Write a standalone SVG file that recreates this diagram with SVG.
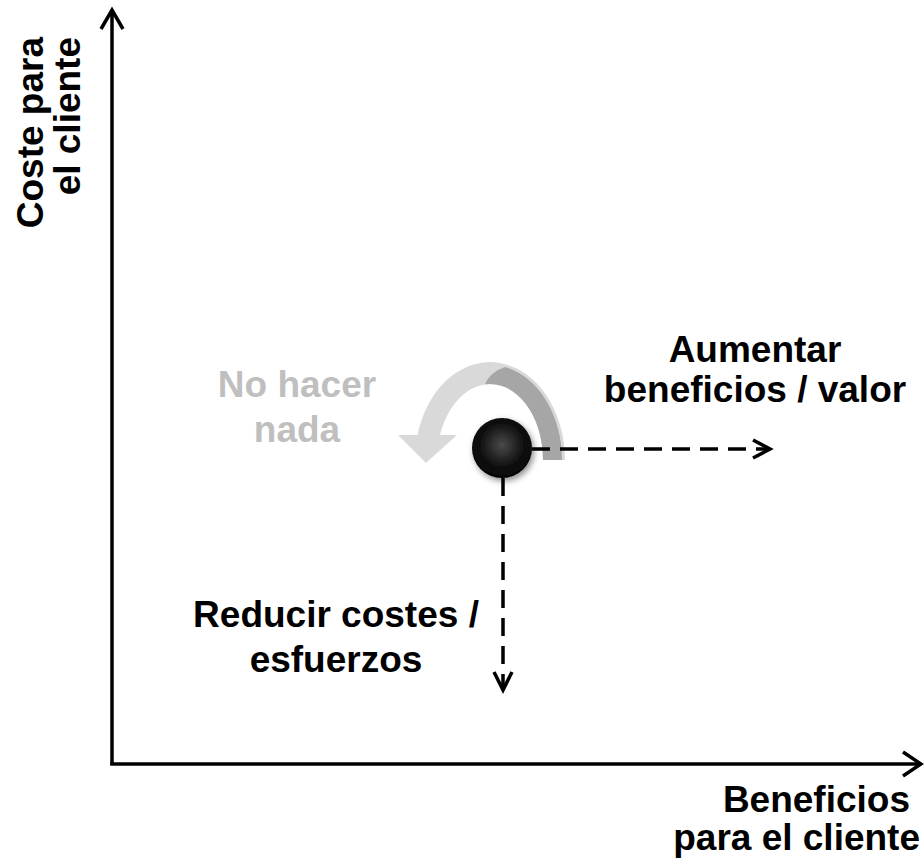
<svg xmlns="http://www.w3.org/2000/svg" width="924" height="865" viewBox="0 0 924 865">
  <style>
    .t { font-family: "Liberation Sans", Arial, sans-serif; font-weight: bold; font-size: 37px; fill: #000; }
    .g { fill: #bfbfbf; }
    .axis { stroke: #000; stroke-width: 3.5; fill: none; }
    .dash { stroke: #000; stroke-width: 3.5; fill: none; stroke-dasharray: 18 10; }
    .head { stroke: #000; stroke-width: 3.5; fill: none; stroke-linecap: butt; stroke-linejoin: miter; }
  </style>
  <defs>
    <radialGradient id="ballGrad" cx="0.5" cy="0.45" r="0.6">
      <stop offset="0" stop-color="#4a4a4a"/>
      <stop offset="0.6" stop-color="#111"/>
      <stop offset="1" stop-color="#000"/>
    </radialGradient>
    <filter id="shadow" x="-50%" y="-50%" width="200%" height="200%">
      <feDropShadow dx="2" dy="3" stdDeviation="3" flood-color="#000" flood-opacity="0.45"/>
    </filter>
  </defs>

  <g id="axes">
    <line class="axis" x1="112" y1="10" x2="112" y2="765"/>
    <polyline class="head" points="101,29 112,10 123,29"/>
    <line class="axis" x1="110.3" y1="764" x2="921" y2="764"/>
    <polyline class="head" points="903,752 921,764 903,776"/>
  </g>

  <g id="y-label">
    <text class="t" transform="translate(43,37) rotate(-90)" text-anchor="end">Coste para</text>
    <text class="t" transform="translate(80,37) rotate(-90)" text-anchor="end">el cliente</text>
  </g>

  <g id="x-label">
    <text class="t" x="910" y="812" text-anchor="end">Beneficios</text>
    <text class="t" x="920" y="850" text-anchor="end">para el cliente</text>
  </g>

  <g id="no-hacer-nada">
    <path d="M565,460 A75,98 0 0 0 417.5,435 L398,435 L426,463 L457,435 L440,435 A53,76 0 0 1 543,460 Z" fill="#d9d9d9"/>
    <path d="M562,460 A72,95 0 0 0 505,367 Q490,372 485,384.3 A53,76 0 0 1 543,460 Z" fill="#a6a6a6"/>
    <text class="t g" x="297" y="397" text-anchor="middle">No hacer</text>
    <text class="t g" x="297" y="442" text-anchor="middle">nada</text>
  </g>

  <g id="connectors">
    <line class="dash" x1="532" y1="449" x2="768" y2="449"/>
    <polyline class="head" points="753,440 770,449 753,458"/>
    <line class="dash" x1="503" y1="478" x2="503" y2="688"/>
    <polyline class="head" points="494,672 503,690 512,672"/>
  </g>

  <g id="ball">
    <circle cx="502" cy="448" r="30" fill="url(#ballGrad)" filter="url(#shadow)"/>
  </g>

  <g id="aumentar">
    <text class="t" x="755" y="362" text-anchor="middle">Aumentar</text>
    <text class="t" x="755" y="402" text-anchor="middle">beneficios / valor</text>
  </g>

  <g id="reducir">
    <text class="t" x="336" y="627" text-anchor="middle">Reducir costes /</text>
    <text class="t" x="336" y="672" text-anchor="middle">esfuerzos</text>
  </g>
</svg>
